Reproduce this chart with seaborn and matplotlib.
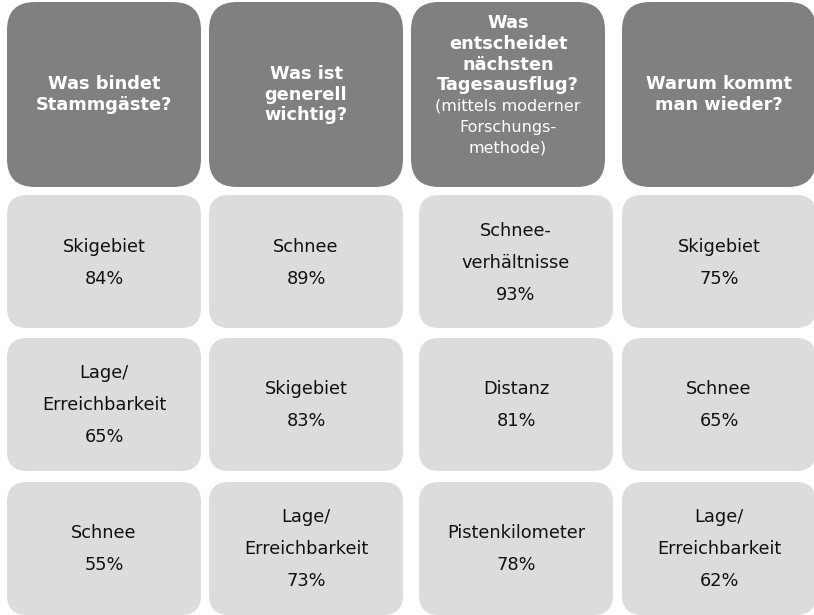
import matplotlib.pyplot as plt
import seaborn as sns
from matplotlib.patches import FancyBboxPatch

sns.set_theme(style="white")
plt.rcParams['font.family'] = ['DejaVu Sans']

# Column headers: bold question, optional regular note
headers = [
    ["Was bindet", "Stammgäste?"],
    ["Was ist", "generell", "wichtig?"],
    ["Was", "entscheidet", "nächsten", "Tagesausflug?"],
    ["Warum kommt", "man wieder?"],
]
header_notes = [[], [], ["(mittels moderner", "Forschungs-", "methode)"], []]

# Top three answers per column
items = [
    [["Skigebiet"], ["Lage/", "Erreichbarkeit"], ["Schnee"]],
    [["Schnee"], ["Skigebiet"], ["Lage/", "Erreichbarkeit"]],
    [["Schnee-", "verhältnisse"], ["Distanz"], ["Pistenkilometer"]],
    [["Skigebiet"], ["Schnee"], ["Lage/", "Erreichbarkeit"]],
]
percents = [
    [84, 65, 55],
    [89, 83, 73],
    [93, 81, 78],
    [75, 65, 62],
]

HEAD_GRAY = "#808080"
CELL_GRAY = "#dcdcdc"

head_x = [7, 209, 411, 622]
body_x = [7, 209, 419, 622]
box_w = 194
head_y, head_h = 2, 185
row_y = [195, 338, 482]
row_h = 133

fig = plt.figure(figsize=(8.14, 6.15), dpi=100)
ax = fig.add_axes([0, 0, 1, 1])
ax.set_xlim(0, 814)
ax.set_ylim(615, 0)
ax.axis("off")


def rbox(x, y, w, h, r, color):
    ax.add_patch(FancyBboxPatch((x + r, y + r), w - 2 * r, h - 2 * r,
                                boxstyle=f"round,pad={r}", fc=color, ec="none"))


for c in range(4):
    rbox(head_x[c], head_y, box_w, head_h, 28, HEAD_GRAY)
    cx = head_x[c] + box_w / 2
    lines = [(t, "bold", 12.8) for t in headers[c]] + [(t, "normal", 11.5) for t in header_notes[c]]
    n = len(lines)
    cy = head_y + head_h / 2 - (9 if header_notes[c] else 0)
    for i, (t, w, s) in enumerate(lines):
        y = cy + (i - (n - 1) / 2) * 20.8
        ax.text(cx, y, t, color="white", fontweight=w, fontsize=s,
                ha="center", va="center")

    for r in range(3):
        rbox(body_x[c], row_y[r], box_w, row_h, 20, CELL_GRAY)
        cx = body_x[c] + box_w / 2
        cy = row_y[r] + row_h / 2 + 1
        lines = items[c][r] + [f"{percents[c][r]}%"]
        n = len(lines)
        for i, t in enumerate(lines):
            y = cy + (i - (n - 1) / 2) * 32
            ax.text(cx, y, t, color="#111111", fontsize=12.8,
                    ha="center", va="center")

fig.savefig("out.png", dpi=100)
